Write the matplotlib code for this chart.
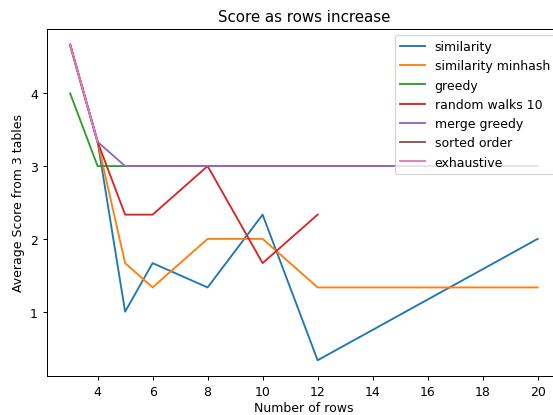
import matplotlib
matplotlib.use("Agg")
import matplotlib.pyplot as plt

x_full = [3, 4, 5, 6, 8, 10, 12, 20]
similarity = [4.667, 3.333, 1.0, 1.667, 1.333, 2.333, 0.333, 2.0]
similarity_minhash = [4.667, 3.333, 1.667, 1.333, 2.0, 2.0, 1.333, 1.333]
greedy = [4.0, 3.0, 3.0, 3.0, 3.0, 3.0, 3.0, 3.0]
x_rw = [3, 4, 5, 6, 8, 10, 12]
random_walks = [4.667, 3.333, 2.333, 2.333, 3.0, 1.667, 2.333]
merge_greedy = [4.667, 3.333, 3.0, 3.0, 3.0, 3.0, 3.0, 3.0]
x_small = [3, 4]
sorted_order = [4.667, 3.333]
exhaustive = [4.667, 3.333]

DPI = 90
fig = plt.figure(figsize=(553 / DPI, 416 / DPI), dpi=DPI)
ax = fig.add_axes([0.0845, 0.0937, 0.93, 0.8343])
ax.plot(x_full, similarity, label="similarity")
ax.plot(x_full, similarity_minhash, label="similarity minhash")
ax.plot(x_full, greedy, label="greedy")
ax.plot(x_rw, random_walks, label="random walks 10")
ax.plot(x_full, merge_greedy, label="merge greedy")
ax.plot(x_small, sorted_order, label="sorted order")
ax.plot(x_small, exhaustive, label="exhaustive")
ax.set_xticks([4, 6, 8, 10, 12, 14, 16, 18, 20])
ax.set_yticks([1, 2, 3, 4])
ax.set_title("Score as rows increase")
ax.set_xlabel("Number of rows", labelpad=2.5)
ax.set_ylabel("Average Score from 3 tables")
ax.legend(loc="upper right")
fig.savefig("out.png", dpi=DPI)
